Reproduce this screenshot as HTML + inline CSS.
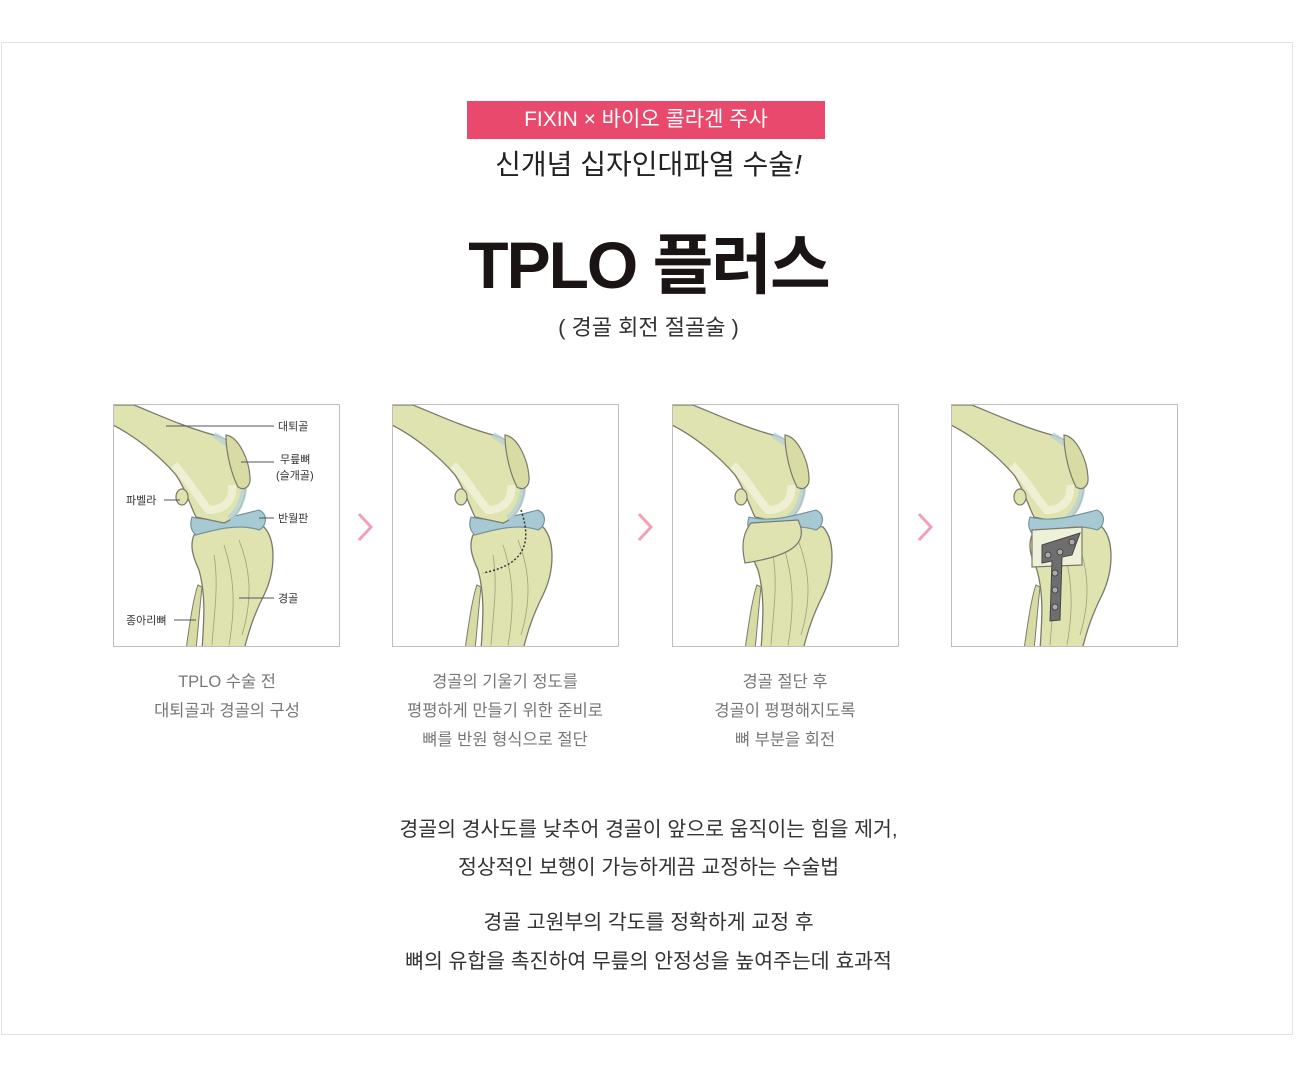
<!DOCTYPE html>
<html><head><meta charset="utf-8"><style>
body{margin:0;width:1297px;height:1068px;background:#fff;font-family:"Liberation Sans","Noto Sans CJK KR",sans-serif;position:relative;overflow:hidden}
.frame{position:absolute;left:1px;top:42px;width:1290px;height:991px;border:1px solid #e3e3e3}
.abs{position:absolute}
.c{text-align:center}
.badge{left:467px;top:101px;width:358px;height:38px;background:#e8496c;color:#fff;font-size:21px;line-height:38px;text-align:center}
.panel{position:absolute;top:404px;width:227px;height:243px;border:1px solid #bdbdbd;box-sizing:border-box;overflow:hidden}
.cap{position:absolute;top:668px;width:260px;font-size:16.5px;line-height:29px;color:#777;text-align:center}
.arrow{position:absolute;top:512px}
.lab{font-size:11px;fill:#333;font-family:"Liberation Sans","Noto Sans CJK KR",sans-serif}
</style></head><body>
<div class="frame"></div>
<div class="abs badge">FIXIN × 바이오 콜라겐 주사</div>
<div class="abs c" style="left:0;width:1297px;top:143px;font-size:28px;color:#222">신개념 십자인대파열 수술<i>!</i></div>
<div class="abs c" style="left:0;width:1297px;top:212px;font-size:66px;font-weight:bold;color:#1a1414;letter-spacing:-2px">TPLO 플러스</div>
<div class="abs c" style="left:0;width:1297px;top:310px;font-size:22px;color:#333">( 경골 회전 절골술 )</div>

<svg width="0" height="0" style="position:absolute"><defs>
<g id="femur">
<path d="M-5,18 C20,30 45,50 62,70 C72,85 76,100 82,112 L110,118 C125,112 132,95 132,75 C132,50 120,35 100,30 C70,22 40,8 20,0 L-5,0 Z" fill="#dfe3b0" stroke="#7a7a6a" stroke-width="1.3"/>
<path d="M60,60 C75,75 85,95 95,105 C110,105 120,95 118,80" fill="none" stroke="#f2f3dc" stroke-width="8" opacity=".8"/>
<path d="M100,30 C120,40 132,60 130,85 C128,100 122,108 115,113" fill="none" stroke="#b8d2d6" stroke-width="6" opacity=".8"/>
<ellipse cx="68" cy="92" rx="6" ry="8" fill="#dfe3b0" stroke="#7a7a6a" stroke-width="1.2"/>
<path d="M112,30 C125,32 135,55 136,72 C137,82 130,86 124,82 C118,70 112,50 112,30 Z" fill="#d8dca4" stroke="#7a7a6a" stroke-width="1.2"/>
</g>
<g id="menis"><path d="M78,112 C100,118 125,110 145,105 C155,110 152,122 145,125 C125,118 100,125 82,130 C76,125 76,118 78,112 Z" fill="#a7c9d3" stroke="#6f8f99" stroke-width="1.1"/></g>
<g id="tibia">
<path d="M80,130 C100,122 130,118 150,122 C162,135 162,165 150,190 C140,210 135,225 130,245 L88,245 C90,215 92,190 85,165 C78,150 76,140 80,130 Z" fill="#dfe3b0" stroke="#7a7a6a" stroke-width="1.3"/>
<path d="M110,140 C120,170 122,200 115,240 M125,135 C135,160 140,190 128,230 M100,150 C105,180 100,210 98,240" fill="none" stroke="#9ea07a" stroke-width=".8"/>
<path d="M72,245 C76,215 80,190 84,180 L88,182 C86,200 84,225 82,245 Z" fill="#d8dca4" stroke="#7a7a6a" stroke-width="1"/>
</g>
</defs></svg>

<div class="panel" style="left:113px"><svg width="227" height="243">
<use href="#tibia"/><use href="#menis"/><use href="#femur"/>
<g stroke="#555" stroke-width="1"><line x1="52" y1="21" x2="160" y2="21"/><line x1="127" y1="57" x2="160" y2="57"/><line x1="50" y1="95" x2="66" y2="95"/><line x1="145" y1="113" x2="160" y2="113"/><line x1="125" y1="193" x2="160" y2="193"/><line x1="60" y1="215" x2="82" y2="215"/></g>
<text class="lab" x="164" y="25">대퇴골</text><text class="lab" x="166" y="58">무릎뼈</text><text class="lab" x="162" y="74">(슬개골)</text>
<text class="lab" x="12" y="99">파벨라</text><text class="lab" x="164" y="117">반월판</text><text class="lab" x="164" y="197">경골</text><text class="lab" x="12" y="219">종아리뼈</text>
</svg></div>
<div class="panel" style="left:392px"><svg width="227" height="243">
<use href="#tibia"/><use href="#menis"/><use href="#femur"/>
<path d="M128,105 C140,140 130,160 90,168" fill="none" stroke="#333" stroke-width="1.5" stroke-dasharray="2,2"/>
</svg></div>
<div class="panel" style="left:672px"><svg width="227" height="243">
<use href="#tibia"/><use href="#femur"/><use href="#menis" transform="translate(-2,0)"/>
<path d="M78,118 L125,115 C135,135 125,150 72,158 C68,140 70,128 78,118 Z" fill="#dfe3b0" stroke="#7a7a6a" stroke-width="1.2"/>
</svg></div>
<div class="panel" style="left:951px"><svg width="227" height="243">
<use href="#tibia"/><use href="#femur"/><use href="#menis"/>
<path d="M80,125 L130,122 L130,160 L80,162 Z" fill="#eef0d8" stroke="#7a7a6a" stroke-width="1.2"/>
<path d="M90,140 L128,128 L120,150 L110,152 L108,215 L98,216 L100,156 L90,158 Z" fill="#6e6e6e" stroke="#444" stroke-width="1"/>
<g fill="#aaa" stroke="#333" stroke-width=".8"><circle cx="96" cy="150" r="3"/><circle cx="108" cy="147" r="3"/><circle cx="120" cy="137" r="3"/><circle cx="103" cy="168" r="3"/><circle cx="103" cy="185" r="3"/><circle cx="103" cy="202" r="3"/></g>
</svg></div>

<svg class="arrow" style="left:356px" width="20" height="30"><path d="M3,2 L15,15 L3,28" fill="none" stroke="#f3a0b4" stroke-width="3"/></svg>
<svg class="arrow" style="left:636px" width="20" height="30"><path d="M3,2 L15,15 L3,28" fill="none" stroke="#f3a0b4" stroke-width="3"/></svg>
<svg class="arrow" style="left:916px" width="20" height="30"><path d="M3,2 L15,15 L3,28" fill="none" stroke="#f3a0b4" stroke-width="3"/></svg>

<div class="cap" style="left:97px">TPLO 수술 전<br>대퇴골과 경골의 구성</div>
<div class="cap" style="left:375px">경골의 기울기 정도를<br>평평하게 만들기 위한 준비로<br>뼈를 반원 형식으로 절단</div>
<div class="cap" style="left:655px">경골 절단 후<br>경골이 평평해지도록<br>뼈 부분을 회전</div>

<div class="abs c" style="left:0;width:1297px;top:811px;font-size:20.5px;line-height:38px;color:#333">경골의 경사도를 낮추어 경골이 앞으로 움직이는 힘을 제거,<br>정상적인 보행이 가능하게끔 교정하는 수술법</div>
<div class="abs c" style="left:0;width:1297px;top:903px;font-size:20.5px;line-height:39px;color:#333">경골 고원부의 각도를 정확하게 교정 후<br>뼈의 유합을 촉진하여 무릎의 안정성을 높여주는데 효과적</div>
</body></html>
